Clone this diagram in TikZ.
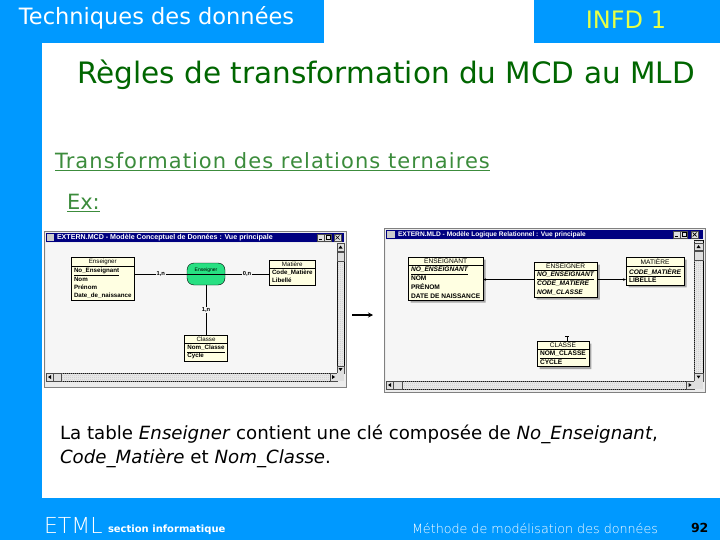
\documentclass[tikz,border=0pt]{standalone}
\usepackage{fontspec}
\setmainfont{DejaVu Sans}
\newfontfamily\winfont{Liberation Sans}
\newfontfamily\thinfont{DejaVu Sans ExtraLight}
\usetikzlibrary{positioning,shapes.multipart,shadows,patterns,arrows.meta}
\definecolor{slideblue}{RGB}{0,153,255}
\definecolor{titlegreen}{RGB}{0,102,0}
\definecolor{subgreen}{RGB}{60,140,60}
\definecolor{barnavy}{RGB}{0,0,128}
\definecolor{cream}{RGB}{255,255,226}
\definecolor{relgreen}{RGB}{40,224,130}
\definecolor{paneback}{RGB}{246,246,246}
\definecolor{inkyellow}{RGB}{230,255,70}
\pgfdeclarepatternformonly{finechecker}{\pgfpointorigin}{\pgfpoint{2pt}{2pt}}{\pgfpoint{2pt}{2pt}}{%
  \pgfpathrectangle{\pgfpointorigin}{\pgfpoint{1pt}{1pt}}%
  \pgfpathrectangle{\pgfpoint{1pt}{1pt}}{\pgfpoint{1pt}{1pt}}%
  \pgfusepath{fill}}

\begin{document}
\begin{tikzpicture}[x=1pt, y=-1pt,
    every node/.style={inner sep=0pt, outer sep=0pt},
    entity/.style={rectangle split, rectangle split parts=2, rectangle split part align={center,left},
        align=left, draw=black, line width=0.5pt, fill=cream, inner xsep=3pt, inner ysep=1.6pt,
        font=\winfont\bfseries\fontsize{6.2}{8.2}\selectfont, anchor=north west},
    mldtable/.style={entity, font=\winfont\bfseries\fontsize{6.6}{8.8}\selectfont,
        drop shadow={shadow xshift=2.5pt, shadow yshift=-2.5pt, fill=gray!70, opacity=1}},
    card/.style={fill=paneback, inner sep=1pt, font=\winfont\bfseries\fontsize{5.8}{6}\selectfont},
    link/.style={line width=0.6pt},
    fk/.style={link, -{Stealth[length=3pt, width=2.5pt]}},
    wintitle/.style={font=\winfont\bfseries\fontsize{6.6}{7}\selectfont, text=white, anchor=west},
    winbutton/.style={draw=gray!60!black, fill=gray!25, line width=0.4pt},
    glyph/.style={line width=0.7pt, black},
    scroller/.style={fill=gray!15, postaction={pattern=finechecker, pattern color=gray!45}}]

    \useasboundingbox (0,0) rectangle (720,540);
    \fill[slideblue] (0,0) rectangle (720,540);
    \fill[white] (42,43) rectangle (720,498);
    \fill[white] (324,0) rectangle (534,43);

    \node[anchor=west, text=white, font=\fontsize{22.5}{24}\selectfont] (topic) at (19,18) {Techniques des données};
    \node[text=inkyellow, font=\fontsize{24}{26}\selectfont] (course) at (626,20) {INFD 1};
    \node[text=titlegreen, font=\fontsize{29.5}{32}\selectfont] (title) at (386,75) {Règles de transformation du MCD au MLD};
    \node[anchor=west, text=subgreen, font=\fontsize{21}{24}\selectfont\addfontfeatures{LetterSpace=5}] (subtitle) at (55,162) {\underline{Transformation des relations ternaires}};
    \node[anchor=west, text=subgreen, font=\fontsize{21}{24}\selectfont] (ex) at (67,203) {\underline{Ex:}};

    \draw[fill=gray!15, draw=gray] (44,231) rectangle (346,387);
    \fill[barnavy] (46,233) rectangle (344,242);
    \fill[gray!40] (47,234) rectangle (54,241);
    \node[wintitle, font=\winfont\bfseries\fontsize{7.1}{8}\selectfont] (mcdtitle) at (57,237.5) {EXTERN.MCD - Modèle Conceptuel de Données : Vue principale};
    \draw[winbutton] (317,234) rectangle (324,241);
    \draw[glyph] (318.5,239.5) -- (322,239.5);
    \draw[winbutton] (324.5,234) rectangle (331.5,241);
    \draw[glyph, line width=0.5pt] (326,235.5) rectangle (330,239.5);
    \draw[winbutton] (334,234) rectangle (341,241);
    \draw[glyph] (335.5,235.5) -- (339.5,239.5) (335.5,239.5) -- (339.5,235.5);
    \fill[paneback] (46,243) rectangle (337,373);
    \draw[scroller] (337,243) rectangle (344,373);
    \draw[winbutton] (337,243) rectangle (344,251);
    \fill (338.5,248.5) -- (342.5,248.5) -- (340.5,245.5) -- cycle;
    \draw[winbutton] (337,252) rectangle (344,261);
    \draw[winbutton] (337,366) rectangle (344,373);
    \fill (338.5,368) -- (342.5,368) -- (340.5,371) -- cycle;
    \draw[scroller] (46,373) rectangle (337,381);
    \draw[winbutton] (46,373) rectangle (53,381);
    \fill (51,375) -- (51,379) -- (48,377) -- cycle;
    \draw[winbutton] (53,373) rectangle (61,381);
    \draw[winbutton] (330,373) rectangle (337,381);
    \fill (332,375) -- (332,379) -- (335,377) -- cycle;
    \fill[gray!25] (337,373) rectangle (344,381);

    \node[entity] (ens) at (71,257) {\mdseries Enseigner\nodepart{two}\underline{No\_Enseignant}\\Nom\\Prénom\\Date\_de\_naissance};
    \node[draw, fill=relgreen, rounded corners=7pt, minimum width=38pt, minimum height=22pt, anchor=north west] (assoc) at (187,263) {};
    \node[above=1.5pt of assoc.center, font=\winfont\fontsize{5}{6}\selectfont] (assocname) {Enseigner};
    \draw[link] (assoc.west) -- (assoc.east);
    \node[entity] (mat) at (269,260) {\mdseries Matière\nodepart{two}Code\_Matière\\Libellé};
    \node[entity, below=50pt of assoc] (cla) {\mdseries Classe\nodepart{two}\underline{Nom\_Classe}\\Cycle};

    \draw[link] (ens.east |- assoc.west) -- node[card] {1,n} (assoc.west);
    \draw[link] (assoc.east) -- node[card] {0,n} (mat.west |- assoc.east);
    \draw[link] (assoc.south) -- node[card] {1,n} (cla.north);

    \coordinate (from) at (352,315);
    \coordinate (to) at (373,315);
    \draw[line width=1.4pt, -{Stealth[length=5pt, width=5pt]}] (from) -- (to);

    \draw[fill=gray!15, draw=gray] (384,228) rectangle (705,392);
    \fill[barnavy] (386,230) rectangle (703,239);
    \fill[gray!40] (387,231) rectangle (395,238);
    \node[wintitle] (mldtitle) at (398,234.5) {EXTERN.MLD - Modèle Logique Relationnel : Vue principale};
    \draw[winbutton] (673,231) rectangle (680,238);
    \draw[glyph] (674.5,236.5) -- (678,236.5);
    \draw[winbutton] (680.5,231) rectangle (687.5,238);
    \draw[glyph, line width=0.5pt] (682,232.5) rectangle (686,236.5);
    \draw[winbutton] (691,231) rectangle (698,238);
    \draw[glyph] (692.5,232.5) -- (696.5,236.5) (692.5,236.5) -- (696.5,232.5);
    \fill[paneback] (386,240) rectangle (694,381);
    \draw[scroller] (694,240) rectangle (703,381);
    \draw[winbutton] (694,243) rectangle (703,250);
    \fill (696.5,248) -- (700.5,248) -- (698.5,245) -- cycle;
    \draw[winbutton] (694,251) rectangle (703,260);
    \draw[winbutton] (694,373) rectangle (703,381);
    \fill (696.5,375.5) -- (700.5,375.5) -- (698.5,378.5) -- cycle;
    \draw[scroller] (386,381) rectangle (694,389);
    \draw[winbutton] (386,381) rectangle (393,389);
    \fill (391,383) -- (391,387) -- (388,385) -- cycle;
    \draw[winbutton] (393,381) rectangle (402,389);
    \draw[winbutton] (686,381) rectangle (694,389);
    \fill (688.5,383) -- (688.5,387) -- (691.5,385) -- cycle;
    \fill[gray!25] (694,381) rectangle (703,389);

    \node[mldtable] (tens) at (408,257) {\mdseries ENSEIGNANT\nodepart{two}\underline{\textit{NO\_ENSEIGNANT}}\\NOM\\PRÉNOM\\DATE DE NAISSANCE};
    \node[mldtable] (tensr) at (534,262) {\mdseries ENSEIGNER\nodepart{two}\underline{\textit{NO\_ENSEIGNANT}}\\\textit{CODE\_MATIÈRE}\\\textit{NOM\_CLASSE}};
    \node[mldtable] (tmat) at (626,257) {\mdseries MATIÈRE\nodepart{two}\underline{\textit{CODE\_MATIÈRE}}\\LIBELLÉ};
    \node[mldtable] (tcla) at (537,341) {\mdseries CLASSE\nodepart{two}\underline{NOM\_CLASSE}\\CYCLE};

    \draw[fk] (tensr.west) -- (tens.east |- tensr.west);
    \draw[fk] (tensr.east) -- (tmat.west |- tensr.east);
    \coordinate (stub) at ([xshift=4pt, yshift=5pt]tcla.north);
    \draw[link, {Bar[width=4pt]}-] (stub) -- ([xshift=4pt]tcla.north);

    \node[anchor=base west, align=left, font=\fontsize{18.2}{24}\selectfont] (note) at (60,463)
        {La table \textit{Enseigner} contient une clé composée de \textit{No\_Enseignant},\\\textit{Code\_Matière} et \textit{Nom\_Classe}.};

    \node[anchor=base west, text=white, font=\thinfont\fontsize{22}{24}\selectfont] (etml) at (44,533) {ETML};
    \node[anchor=base west, text=white, font=\bfseries\fontsize{10}{11}\selectfont] (section) at (108,532) {section informatique};
    \node[anchor=base west, text=white, font=\thinfont\fontsize{12.7}{14}\selectfont] (method) at (412,533) {Méthode de modélisation des données};
    \node[anchor=base west, font=\bfseries\fontsize{12.5}{14}\selectfont] (pagenum) at (691,532) {92};
\end{tikzpicture}
\end{document}
